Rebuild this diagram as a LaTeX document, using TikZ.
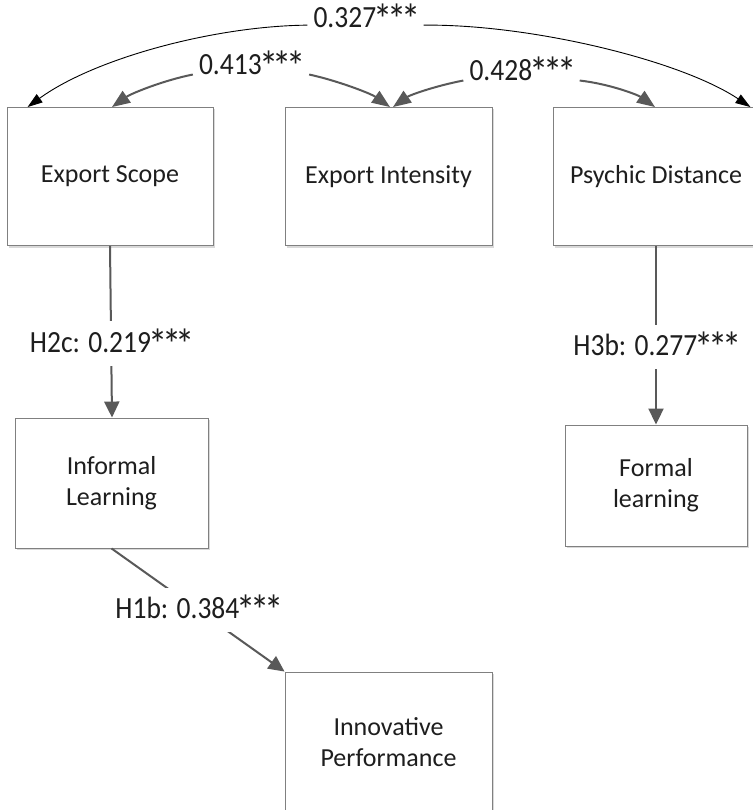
\documentclass[tikz,border=0pt]{standalone}
\usepackage{graphicx}
\usepackage{fontspec}
\setmainfont{Carlito}
\usetikzlibrary{arrows.meta,calc,shadows}
\definecolor{edgegray}{HTML}{595959}
\definecolor{boxgray}{HTML}{808080}
\definecolor{inkgray}{HTML}{1E1E1E}
% significance stars, drawn a little larger than the font's own asterisk
\newcommand\sigstar{\makebox[0.5em][c]{\raisebox{-0.22em}{\scalebox{1.4}{*}}}}
\newcommand\stars{\sigstar\sigstar\sigstar}
% coefficient labels are set slightly taller than wide
\newcommand\coef[1]{\scalebox{1}[1.12]{#1}}
\begin{document}
\begin{tikzpicture}[x=1pt,y=1pt,
  every node/.style={text=inkgray},
  box/.style={draw=boxgray, line width=0.9pt, fill=white, align=center,
    font=\fontsize{26}{31}\selectfont, inner sep=0pt,
    drop shadow={shadow xshift=2pt, shadow yshift=-2pt, fill=black, opacity=0.15}},
  lbl/.style={fill=white, inner xsep=6pt, inner ysep=7pt,
    font=\fontsize{27.5}{31}\selectfont},
  path/.style={draw=edgegray, line width=2pt,
    -{Triangle[length=16pt,width=15pt]}},
  corr/.style={draw=edgegray, line width=2pt,
    -{Triangle[length=18pt,width=14pt]}},
  thinarc/.style={draw=black, line width=0.9pt,
    -{Triangle[length=15pt,width=10pt]}}
]
\useasboundingbox (0,0) rectangle (752,-810);

% constructs
\node[box, minimum width=206pt, minimum height=138pt] (es) at (110,-176.5) {Export Scope};
\node[box, minimum width=207pt, minimum height=138pt] (ei) at (388.5,-176.5) {Export Intensity};
\node[box, minimum width=206pt, minimum height=138pt] (pd) at (656,-176.5) {Psychic Distance};
\node[box, minimum width=193pt, minimum height=130pt] (il) at (111.5,-483) {Informal\\Learning};
\node[box, minimum width=182pt, minimum height=121pt] (fl) at (656,-485.5) {Formal\\learning};
\node[box, minimum width=207pt, minimum height=140pt] (ip) at (388.5,-742) {Innovative\\Performance};

% correlations along the top
\node[lbl, inner ysep=1pt] (c1) at (365.5,-19) {\coef{0.327\stars}};
\node[lbl, inner ysep=1pt] (c2) at (251,-66) {\coef{0.413\stars}};
\node[lbl, inner ysep=1pt] (c3) at (521.5,-72) {\coef{0.428\stars}};

\draw[thinarc] (c1.mid west) .. controls (215,-26) and (95,-58) .. ($(es.north west)+(21,0)$);
\draw[thinarc] (c1.mid east) .. controls (530,-24) and (680,-60) .. ($(pd.north east)+(-9,0)$);

\draw[corr] (c2.base west) .. controls (165,-80) and (132,-93) .. ($(es.north)+(2,0)$);
\draw[corr] (c2.base east) .. controls (335,-80) and (370,-93) .. ($(ei.north)+(1.5,0)$);
\draw[corr] (c3.base west) .. controls (435,-86) and (410,-95) .. ($(ei.north)+(4.5,0)$);
\draw[corr] (c3.base east) .. controls (610,-84) and (638,-95) .. ($(pd.north)+(-1,0)$);

% hypothesised paths
\draw[path] (es.south) -- ($(il.north)+(0.5,0)$)
  node[lbl, pos=0.57] {\coef{H2c: 0.219\stars}};
\draw[path] (pd.south) -- (fl.north)
  node[lbl, pos=0.565] {\coef{H3b: 0.277\stars}};
\draw[path] (il.south) -- (ip.north west)
  node[lbl, midway] {\coef{H1b: 0.384\stars}};
\end{tikzpicture}
\end{document}
